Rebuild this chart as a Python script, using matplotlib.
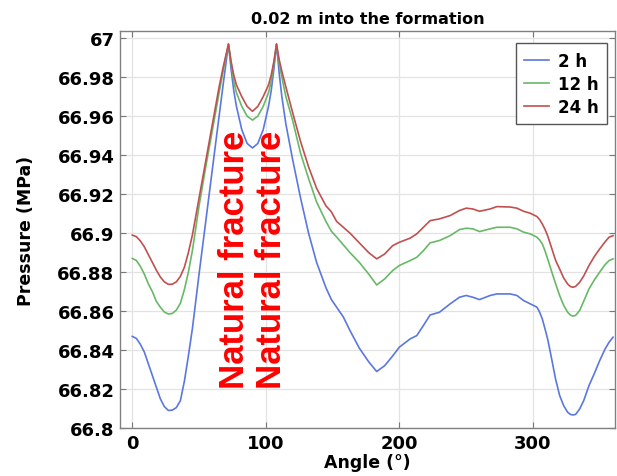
import matplotlib
matplotlib.use("Agg")
import matplotlib.pyplot as plt

# angle around the wellbore (deg)
angle = [0, 3, 6, 9, 12, 15, 18, 21, 24, 27, 30, 33, 36, 39, 42, 45,
         50, 55, 60, 65, 68, 72,
         74, 76, 78, 82, 86, 90, 94, 98, 102, 104, 106, 108,
         110, 112, 115, 120, 126, 132, 138, 145, 149, 153, 158, 163, 170, 177,
         183, 189, 195, 200, 208, 213, 218, 223, 230, 238, 245, 250, 255, 260,
         268, 273, 283, 288, 293, 298, 303, 305, 307, 309, 311, 313, 315, 317,
         320, 323, 326, 328, 330, 332, 335, 338, 342, 346, 350, 354, 357, 360]

p_2h = [66.847, 66.846, 66.843, 66.839, 66.833, 66.827, 66.821, 66.815, 66.811,
        66.809, 66.8092, 66.8105, 66.814, 66.824, 66.837, 66.851,
        66.879, 66.906, 66.933, 66.960, 66.976, 66.997,
        66.984, 66.973, 66.965, 66.953, 66.946, 66.9437, 66.946, 66.953, 66.965,
        66.973, 66.984, 66.997,
        66.982, 66.970, 66.956, 66.938, 66.918, 66.900, 66.885, 66.872, 66.866,
        66.862, 66.857, 66.850, 66.841, 66.834,
        66.829, 66.832, 66.837, 66.8415, 66.8457, 66.8474, 66.8526, 66.858,
        66.8594, 66.8637, 66.8671, 66.868, 66.8671, 66.8659,
        66.868, 66.8688, 66.8688, 66.868, 66.8654, 66.8637, 66.862, 66.8595,
        66.856, 66.851, 66.8457, 66.839, 66.832, 66.825,
        66.8167, 66.8115, 66.8081, 66.807, 66.8067, 66.807, 66.8098, 66.814,
        66.8218, 66.828, 66.8346, 66.8405, 66.844, 66.8466]

p_12h = [66.887, 66.886, 66.883, 66.879, 66.874, 66.870, 66.865, 66.862, 66.8595,
         66.8585, 66.8588, 66.8605, 66.864, 66.871, 66.880, 66.891,
         66.914, 66.934, 66.953, 66.972, 66.983, 66.997,
         66.987, 66.978, 66.972, 66.965, 66.960, 66.958, 66.960, 66.965, 66.972,
         66.978, 66.987, 66.997,
         66.987, 66.980, 66.970, 66.958, 66.941, 66.928, 66.916, 66.906, 66.901,
         66.898, 66.894, 66.890, 66.885, 66.879,
         66.8734, 66.8765, 66.8808, 66.8834, 66.8859, 66.8876, 66.891, 66.895,
         66.8962, 66.8987, 66.9018, 66.9025, 66.9022, 66.9008,
         66.9022, 66.903, 66.903, 66.9022, 66.9005, 66.8996, 66.8979, 66.8965,
         66.8945, 66.891, 66.8868, 66.8825, 66.8782, 66.874,
         66.868, 66.863, 66.8594, 66.858, 66.8574, 66.8578, 66.8603, 66.865,
         66.8714, 66.876, 66.880, 66.8838, 66.8859, 66.8868]

p_24h = [66.899, 66.8982, 66.896, 66.893, 66.889, 66.885, 66.881, 66.8775, 66.875,
         66.8737, 66.8738, 66.875, 66.8778, 66.8825, 66.890, 66.899,
         66.918, 66.937, 66.956, 66.975, 66.985, 66.997,
         66.988, 66.981, 66.976, 66.970, 66.965, 66.9625, 66.965, 66.970, 66.976,
         66.981, 66.988, 66.997,
         66.989, 66.983, 66.975, 66.962, 66.947, 66.934, 66.923, 66.914, 66.911,
         66.906, 66.903, 66.900, 66.895, 66.890,
         66.8868, 66.8893, 66.8936, 66.8953, 66.8974, 66.8996, 66.903, 66.9064,
         66.9073, 66.909, 66.9116, 66.9128, 66.9124, 66.9112,
         66.9124, 66.9136, 66.9134, 66.9128, 66.9112, 66.9102, 66.9085, 66.907,
         66.9047, 66.902, 66.8987, 66.8945, 66.8902, 66.886,
         66.8816, 66.877, 66.8739, 66.8726, 66.8722, 66.8727, 66.8748, 66.878,
         66.8834, 66.888, 66.8919, 66.8955, 66.8979, 66.8987]

labels = ['2 h', '12 h', '24 h']
colors = ['#5b77e0', '#67b967', '#c0504f']
yticks = [66.8, 66.82, 66.84, 66.86, 66.88, 66.9, 66.92, 66.94, 66.96, 66.98, 67]
ytick_labels = ['66.8', '66.82', '66.84', '66.86', '66.88', '66.9', '66.92',
                '66.94', '66.96', '66.98', '67']
fracture_angles = [76.5, 104]

plt.rcParams['font.family'] = 'DejaVu Sans'
plt.rcParams['font.weight'] = 'bold'

fig = plt.figure(figsize=(6.17, 4.77), dpi=100)
ax = fig.add_axes([0.1945, 0.1006, 0.803, 0.8323])

for series, lab, col in zip([p_2h, p_12h, p_24h], labels, colors):
    ax.plot(angle, series, color=col, lw=1.2, label=lab)

for xa in fracture_angles:
    ax.text(xa, 66.887, 'Natural fracture', rotation=90, color='red',
            fontsize=25, fontweight='bold', family='Liberation Sans',
            ha='center', va='center')

ax.set_xlim(-9.2, 361.8)
ax.set_ylim(66.8, 67.0037)
ax.set_xticks([0, 100, 200, 300])
ax.set_yticks(yticks)
ax.set_yticklabels(ytick_labels)
ax.tick_params(direction='in', top=True, right=True, labelsize=13,
               color='#777777', length=4, pad=4)
for lbl in ax.get_xticklabels() + ax.get_yticklabels():
    lbl.set_fontweight('bold')
ax.grid(True, color='#e3e3e3', lw=0.9)
ax.set_axisbelow(True)
for sp in ax.spines.values():
    sp.set_color('#808080')
    sp.set_linewidth(1.0)

ax.set_title('0.02 m into the formation', fontsize=11.5, fontweight='bold', pad=6)
ax.set_xlabel('Angle (°)', fontsize=12.5, fontweight='bold', labelpad=1)
ax.set_ylabel('Pressure (MPa)', fontsize=12.5, fontweight='bold', labelpad=16)

leg = ax.legend(loc='upper right', fontsize=12, handlelength=1.5,
                handletextpad=0.5, borderpad=0.5, labelspacing=0.3,
                fancybox=False, framealpha=1, bbox_to_anchor=(0.999, 0.99))
leg.get_frame().set_edgecolor('#555555')
leg.get_frame().set_linewidth(1.0)
for t in leg.get_texts():
    t.set_fontweight('bold')

fig.savefig('out.png', dpi=100)
